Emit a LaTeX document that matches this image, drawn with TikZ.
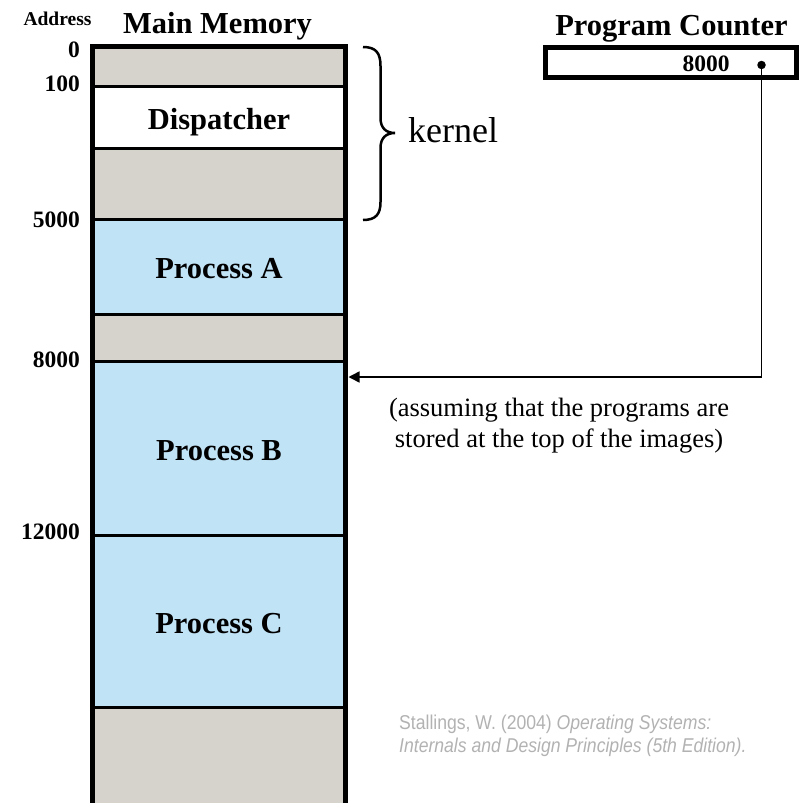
\documentclass[tikz,border=0pt]{standalone}
\usepackage{fontspec}
\setmainfont{Liberation Serif}
\newfontfamily\citefont[FakeStretch=0.88]{Liberation Sans}
\usetikzlibrary{arrows.meta}
\definecolor{memgray}{RGB}{214,211,204}
\definecolor{memblue}{RGB}{193,227,246}
\definecolor{citegray}{RGB}{178,178,178}

\begin{document}
\begin{tikzpicture}[x=1pt,y=-1pt,
  region/.style={draw=black, line width=3pt, minimum width=253pt, inner sep=0pt,
    font=\fontsize{30.5}{36}\selectfont\bfseries, text height=24pt, text depth=0pt},
  header/.style={inner sep=0pt, font=\fontsize{30.5}{36}\selectfont\bfseries},
  addr/.style={inner sep=0pt, anchor=east, font=\fontsize{23.5}{28}\selectfont\bfseries},
  cite/.style={inner sep=0pt, anchor=base west, text=citegray, font=\citefont\fontsize{20}{24}\selectfont},
  pointer/.style={line width=1.5pt, -{Triangle[length=11pt,width=11pt]}}]
\useasboundingbox (0,0) rectangle (802,803);

% memory regions, top to bottom
\node[region, fill=memgray, minimum height=39.5pt] (low)  at (219,66.25) {};
\node[region, fill=white,   minimum height=62pt]   (disp) at (219,117)   {Dispatcher};
\node[region, fill=memgray, minimum height=71pt]   (kfree) at (219,183.5) {};
\node[region, fill=memblue, minimum height=95pt]   (procA) at (219,266.5) {Process A};
\node[region, fill=memgray, minimum height=47pt]   (gapA) at (219,337.5) {};
\node[region, fill=memblue, minimum height=174pt]  (procB) at (219,448)   {Process B};
\node[region, fill=memblue, minimum height=172pt]  (procC) at (219,621)   {Process C};
\node[region, fill=memgray, minimum height=97pt]   (high) at (219,755.5) {};

% thick outline of the memory column
\node[draw=black, line width=5pt, minimum width=253pt, minimum height=759pt, inner sep=0pt] (mem) at (219,426) {};

% headings
\node[inner sep=0pt, font=\fontsize{19.5}{24}\selectfont\bfseries] (addrhead) at (57.5,18.5) {Address};
\node[header, anchor=base] (memhead) at (217.5,33) {Main Memory};
\node[header, anchor=base] (pchead) at (671.5,35) {Program Counter};

% address marks
\node[addr] (a0)     at (80,50)  {0};
\node[addr] (a100)   at (80,84)  {100};
\node[addr] (a5000)  at (80,220) {5000};
\node[addr] (a8000)  at (80,360) {8000};
\node[addr] (a12000) at (80,532) {12000};

% kernel brace
\draw[line width=2.5pt] (363,47) .. controls (376,47) and (380.5,53) .. (380.5,66)
  -- (380.5,118) .. controls (380.5,128) and (386,133) .. (395,133)
  .. controls (386,133) and (380.5,138) .. (380.5,148)
  -- (380.5,202) .. controls (380.5,214) and (376,220) .. (363,220);
\node[inner sep=0pt, anchor=base west, font=\fontsize{36}{40}\selectfont] (kernel) at (408,142) {kernel};

% program counter register
\node[draw=black, line width=4.5pt, minimum width=251pt, minimum height=30pt, inner sep=0pt] (pc) at (671,62.5) {};
\node[inner sep=0pt, font=\fontsize{23.5}{28}\selectfont\bfseries] (pcval) at (706,63.5) {8000};
\node[circle, fill=black, inner sep=0pt, minimum size=8.5pt] (pcdot) at (761.5,65) {};
\coordinate (pctarget) at (348.5,377);
\draw[pointer] (pcdot.center) |- (pctarget);

% note
\node[inner sep=0pt, align=center, font=\fontsize{26.5}{31}\selectfont] (note) at (559,426)
  {(assuming that the programs are\\stored at the top of the images)};

% source
\node[cite] (cite1) at (399,729) {Stallings, W. (2004) \textit{Operating Systems:}};
\node[cite] (cite2) at (399,752) {\textit{Internals and Design Principles (5th Edition).}};
\end{tikzpicture}
\end{document}
